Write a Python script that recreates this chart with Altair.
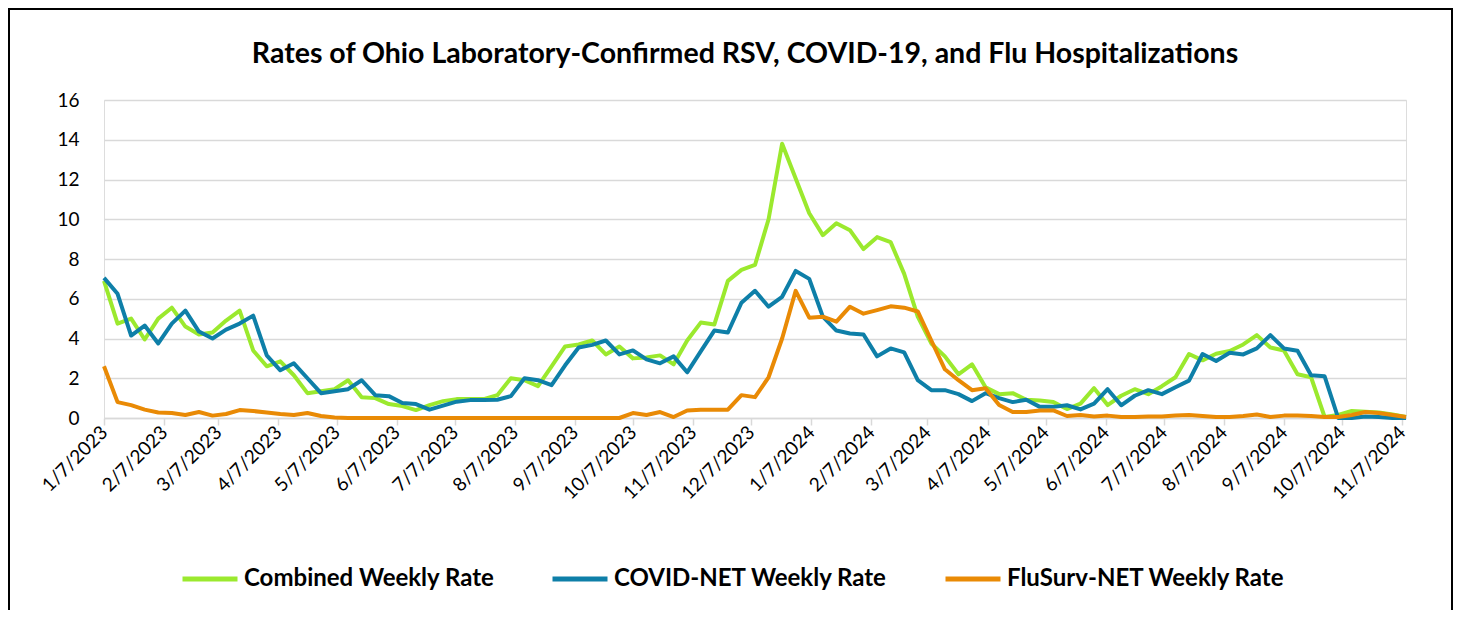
import altair as alt
import pandas as pd

# Weekly series, first week ending 2023-01-07
start_date = "2023-01-07"

combined = [6.9, 4.75, 5.0, 3.95, 5.0, 5.55, 4.6, 4.2, 4.3, 4.9,
            5.4, 3.4, 2.6, 2.85, 2.15, 1.25, 1.35, 1.45, 1.9, 1.05,
            1.0, 0.7, 0.6, 0.4, 0.65, 0.85, 0.95, 0.95, 0.95, 1.15,
            2.0, 1.9, 1.6, 2.6, 3.6, 3.7, 3.9, 3.2, 3.6, 3.0,
            3.05, 3.15, 2.7, 3.9, 4.8, 4.7, 6.9, 7.45, 7.7, 10.0,
            13.8, 12.05, 10.3, 9.2, 9.8, 9.45, 8.5, 9.1, 8.85, 7.25,
            5.1, 3.75, 3.1, 2.2, 2.7, 1.55, 1.2, 1.25, 0.92, 0.88,
            0.8, 0.45, 0.72, 1.5, 0.65, 1.12, 1.45, 1.2, 1.6, 2.05,
            3.22, 2.9, 3.23, 3.37, 3.7, 4.17, 3.55, 3.4, 2.2, 2.05,
            0.05, 0.15, 0.35, 0.32, 0.28, 0.18, 0.05]

covid = [7.05, 6.25, 4.15, 4.65, 3.75, 4.75, 5.4, 4.35, 4.0, 4.45,
         4.75, 5.15, 3.15, 2.4, 2.75, 2.0, 1.25, 1.35, 1.45, 1.9,
         1.15, 1.1, 0.75, 0.7, 0.42, 0.62, 0.82, 0.9, 0.9, 0.92,
         1.1, 2.0, 1.9, 1.65, 2.65, 3.55, 3.68, 3.9, 3.2, 3.4,
         2.95, 2.75, 3.1, 2.3, 3.35, 4.4, 4.3, 5.8, 6.4, 5.6,
         6.1, 7.4, 7.0, 5.1, 4.4, 4.25, 4.2, 3.1, 3.5, 3.3,
         1.9, 1.4, 1.4, 1.2, 0.85, 1.25, 1.0, 0.8, 0.92, 0.56,
         0.56, 0.64, 0.43, 0.72, 1.45, 0.64, 1.12, 1.4, 1.2, 1.55,
         1.88, 3.22, 2.87, 3.28, 3.2, 3.5, 4.17, 3.5, 3.38, 2.15,
         2.1, 0.0, 0.0, 0.08, 0.05, 0.0, 0.0]

flu = [2.6, 0.8, 0.65, 0.42, 0.28, 0.25, 0.15, 0.3, 0.12, 0.2,
       0.4, 0.35, 0.28, 0.2, 0.15, 0.25, 0.1, 0.02, 0.0, 0.0,
       0.0, 0.0, 0.0, 0.0, 0.0, 0.0, 0.0, 0.0, 0.0, 0.0,
       0.0, 0.0, 0.0, 0.0, 0.0, 0.0, 0.0, 0.0, 0.0, 0.25,
       0.15, 0.3, 0.05, 0.38, 0.42, 0.42, 0.42, 1.15, 1.05, 2.05,
       4.0, 6.4, 5.05, 5.1, 4.85, 5.6, 5.25, 5.43, 5.62, 5.55,
       5.36, 3.9, 2.45, 1.9, 1.4, 1.5, 0.65, 0.3, 0.3, 0.38,
       0.38, 0.1, 0.15, 0.08, 0.12, 0.05, 0.05, 0.08, 0.08, 0.12,
       0.15, 0.1, 0.05, 0.05, 0.1, 0.18, 0.05, 0.12, 0.12, 0.1,
       0.05, 0.05, 0.15, 0.3, 0.25, 0.15, 0.05]

series_names = ["Combined Weekly Rate", "COVID-NET Weekly Rate", "FluSurv-NET Weekly Rate"]
series_colors = ["#9BE92E", "#0E7FA8", "#E98A05"]
title_text = "Rates of Ohio Laboratory-Confirmed RSV, COVID-19, and Flu Hospitalizations"

# x-axis tick labels: the 7th of each month
tick_months = [(2023, m) for m in range(1, 13)] + [(2024, m) for m in range(1, 12)]

n = len(combined)
dates = pd.date_range(start_date, periods=n, freq="7D").strftime("%Y-%m-%dT00:00:00")

rows = []
for name, vals in zip(series_names, [combined, covid, flu]):
    for d, v in zip(dates, vals):
        rows.append({"date": d, "series": name, "value": v})
df = pd.DataFrame(rows)

FONT = "Lato"

x_enc = alt.X(
    "date:T",
    scale=alt.Scale(domain=[alt.DateTime(year=2023, month=1, date=7),
                            alt.DateTime(year=2024, month=11, date=9)], nice=False),
    axis=alt.Axis(
        title=None,
        values=[alt.DateTime(year=y, month=m, date=7) for y, m in tick_months],
        format="%-m/%-d/%Y",
        labelAngle=315,
        labelAlign="right",
        labelBaseline="middle",
        labelFontSize=19,
        labelFont=FONT,
        labelColor="#000000",
        labelPadding=4,
        labelOverlap=False,
        labelFlush=False,
        grid=False,
        domainColor="#d9d9d9",
        domainWidth=1.5,
        tickColor="#d9d9d9",
        tickWidth=1.5,
        tickSize=7,
    ),
)

y_enc = alt.Y(
    "value:Q",
    scale=alt.Scale(domain=[0, 16], nice=False),
    axis=alt.Axis(
        title=None,
        values=list(range(0, 17, 2)),
        grid=True,
        gridColor="#d9d9d9",
        gridWidth=1.5,
        domain=False,
        ticks=False,
        labelFontSize=19,
        labelFont=FONT,
        labelColor="#000000",
        labelPadding=25,
    ),
)

color_enc = alt.Color(
    "series:N",
    scale=alt.Scale(domain=series_names, range=series_colors),
    legend=alt.Legend(
        title=None,
        orient="none",
        legendX=76,
        legendY=449,
        direction="horizontal",
        symbolType="stroke",
        symbolSize=3025,
        symbolStrokeWidth=5,
        labelFontSize=24,
        labelFont=FONT,
        labelFontWeight="bold",
        labelColor="#000000",
        labelLimit=400,
        labelOffset=4,
        columnPadding=47,
    ),
)

base = alt.Chart(df)
layers = []
for name in series_names:
    layers.append(
        base.transform_filter(alt.datum.series == name)
        .mark_line(strokeWidth=4, strokeJoin="round")
        .encode(x=x_enc, y=y_enc, color=color_enc)
    )

deco = alt.Data(values=[{"a": 1}])

border = alt.Chart(deco).mark_rect(
    filled=False, stroke="#000000", strokeWidth=2
).encode(
    x=alt.value(-95), x2=alt.value(1348), y=alt.value(-91), y2=alt.value(540)
)

title = alt.Chart(deco).mark_text(
    text=title_text,
    font=FONT,
    fontSize=28.5,
    fontWeight="bold",
    color="#000000",
    align="center",
    baseline="middle",
).encode(x=alt.value(641), y=alt.value(-46))

chart = alt.layer(*layers, border, title).properties(
    width=1302,
    height=318,
    padding={"left": 96, "top": 92, "right": 47, "bottom": 192},
    autosize=alt.AutoSizeParams(type="none"),
).configure_view(stroke=None).configure(background="#ffffff")

chart.save("out.html", embed_options={"renderer": "svg", "actions": False})
